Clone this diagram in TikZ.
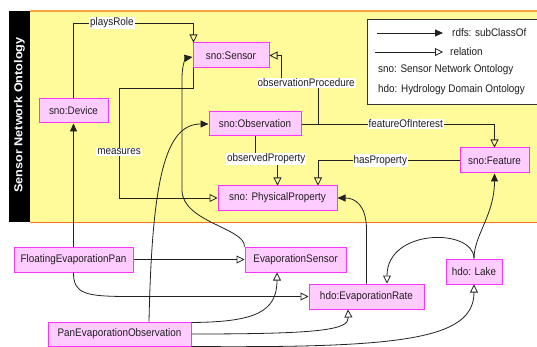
\documentclass[tikz,border=0pt]{standalone}
\usepackage{fontspec}
\setmainfont[FakeStretch=0.9]{Liberation Sans}
\newfontfamily\bandfont[FakeStretch=1.1]{Liberation Sans}
\usetikzlibrary{arrows.meta}
\definecolor{bgyellow}{HTML}{FFFB9B}
\definecolor{topline}{HTML}{FFA040}
\definecolor{botline}{HTML}{FF7010}
\definecolor{boxfill}{HTML}{FFCCFF}
\definecolor{boxdraw}{HTML}{FF33FF}
\definecolor{edgecol}{HTML}{222222}
\begin{document}
\begin{tikzpicture}[x=1pt,y=-1pt,
  txt/.style={font=\fontsize{11}{13}\selectfont, text=black!88},
  box/.style={txt, draw=boxdraw, fill=boxfill, line width=1pt, inner sep=0pt},
  lbl/.style={txt, fill=white, inner sep=1pt},
  conn/.style={draw=edgecol, line width=0.8pt},
  rel/.style={conn, -{Triangle[open,length=8pt,width=8pt]}},
  sub/.style={conn, -{Triangle[length=8pt,width=7pt]}},
]
\useasboundingbox (0,0) rectangle (537,347);
\fill[white] (0,0) rectangle (537,347);
\fill[bgyellow] (30,11) rectangle (537,222);
\fill[black] (9,11) rectangle (30,222);
\draw[topline, line width=2pt] (30,11) -- (537,11);
\draw[botline, line width=1pt] (30,222) -- (537,222);
\node[rotate=90, text=white, font=\bandfont\bfseries\fontsize{11.5}{13}\selectfont] (band) at (19.5,115) {Sensor Network Ontology};

% legend
\fill[white] (367,19) rectangle (537,104);
\draw[black!80, line width=0.8pt] (537.5,19) -- (367,19) -- (367,104) -- (537.5,104);
\coordinate (la1) at (377,33); \coordinate (la2) at (443,33);
\coordinate (lb1) at (375,52); \coordinate (lb2) at (443,52);
\draw[sub] (la1) -- (la2);
\draw[rel] (lb1) -- (lb2);
\node[txt, anchor=west, inner sep=0pt] (lt1) at (452,33) {rdfs: subClassOf};
\node[txt, anchor=west, inner sep=0pt] (lt2) at (450,52) {relation};
\node[txt, anchor=west, inner sep=0pt] (lt3) at (378,70) {sno: Sensor Network Ontology};
\node[txt, anchor=west, inner sep=0pt] (lt4) at (378,90) {hdo: Hydrology Domain Ontology};

% nodes
\node[box, minimum width=76pt, minimum height=25pt] (sensor) at (231,55.5) {sno:Sensor};
\node[box, minimum width=69pt, minimum height=24pt] (device) at (73.5,111) {sno:Device};
\node[box, minimum width=92pt, minimum height=24pt] (obs) at (255,124) {sno:Observation};
\node[box, minimum width=119pt, minimum height=24pt] (phys) at (277.5,198) {sno: PhysicalProperty};
\node[box, minimum width=69pt, minimum height=25pt] (feature) at (494.5,160.5) {sno:Feature};
\node[box, minimum width=119pt, minimum height=25pt] (fep) at (73.5,259.5) {FloatingEvaporationPan};
\node[box, minimum width=101pt, minimum height=25pt] (evs) at (295.5,259.5) {EvaporationSensor};
\node[box, minimum width=115pt, minimum height=25pt] (evr) at (366.5,296.5) {hdo:EvaporationRate};
\node[box, minimum width=56pt, minimum height=25pt] (lake) at (474,271.5) {hdo: Lake};
\node[box, minimum width=143pt, minimum height=24pt] (peo) at (119.5,334) {PanEvaporationObservation};

% connectors
\coordinate (prc) at (193.5,23);
\draw[rel] (device.north) -- (device.north |- prc) -- node[lbl,pos=0.32] (l1) {playsRole} (prc) -- (sensor.north west -| prc);

\coordinate (m1) at (193.5,88); \coordinate (m2) at (119,88);
\draw[rel] (sensor.south west -| m1) -- (m1) -- (m2) -- node[lbl,pos=0.58] (l2) {measures} (m2 |- phys.west) -- (phys.west);

\coordinate (op1) at (318,124); \coordinate (op2) at (318,83); \coordinate (op3) at (281,83);
\draw[rel] (obs.east) -- (op1) -- (op2) -- node[lbl,pos=0.32] (l3) {observationProcedure} (op3) -- (op3 |- sensor.east) -- (sensor.east);

\draw[rel] (obs.east) -- node[lbl,pos=0.54] (l4) {featureOfInterest} (obs.east -| feature.north) -- (feature.north);

\coordinate (opp) at (255,159);
\draw[rel] (obs.south) -- (obs.south |- opp) -- node[lbl] (l5) {observedProperty} (opp -| phys.north) -- (phys.north);

\coordinate (hp) at (318,160.5);
\draw[rel] (feature.west) -- node[lbl,pos=0.56] (l6) {hasProperty} (feature.west -| hp) -- (hp |- phys.north);

\draw[rel] (fep.east) -- (evs.west);
\draw[sub] (fep.north) -- (device.south);
\draw[rel] (fep.south) .. controls (73.5,294) and (85,296.5) .. (130,296.5) -- (evr.west);

\draw[sub] (evs.north west) .. controls (245,228) and (182,222) .. (182,190) -- (182,78) .. controls (182,64) and (186,58) .. ([yshift=-1.5pt]sensor.west);

\draw[sub] ([xshift=29.5pt]peo.north) .. controls (152,180) and (165,124) .. (obs.west);
\draw[rel] ([yshift=-1pt]peo.north east) .. controls (255,322) and (277,312) .. ([xshift=-18.5pt]evs.south);
\draw[rel] (peo.east) .. controls (320,334) and (349,330) .. ([xshift=-18.5pt]evr.south);
\draw[rel] (peo.south east) .. controls (400,348) and (474,340) .. (lake.south);

\draw[sub] (evr.north) -- (366.5,230) .. controls (366.5,205) and (355,198) .. (phys.east);
\draw[rel] (lake.north) .. controls (474,228) and (387,228) .. ([xshift=20.5pt]evr.north);
\draw[sub] (lake.north) .. controls (474,235) and (494.5,215) .. (feature.south);
\end{tikzpicture}
\end{document}
